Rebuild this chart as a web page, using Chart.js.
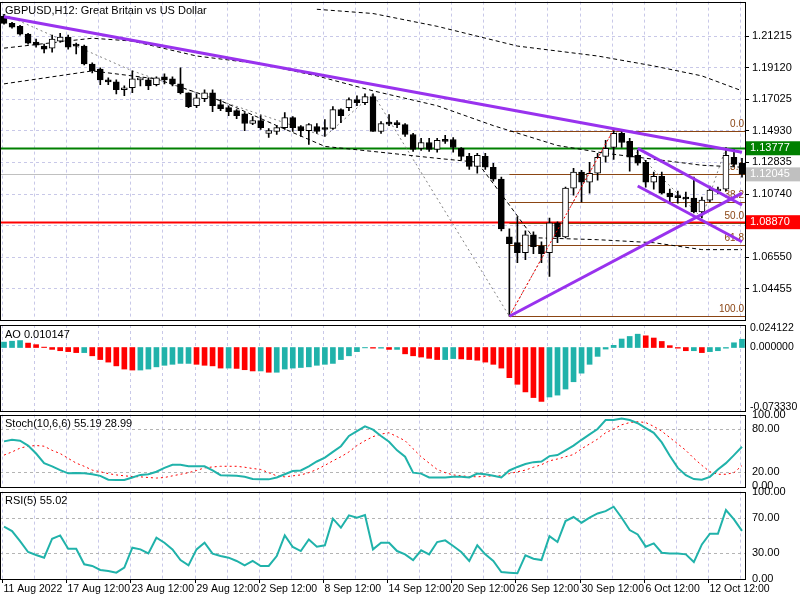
<!DOCTYPE html>
<html><head><meta charset="utf-8">
<script src="https://cdn.jsdelivr.net/npm/chart.js@4"></script>
<style>
body{margin:0;background:#fff;width:800px;height:600px;overflow:hidden;position:relative;font-family:"Liberation Sans",sans-serif}
.p{position:absolute;left:0;width:800px}
</style></head><body>
<div class="p" id="d0"><canvas id="c0"></canvas></div>
<div class="p" id="d1"><canvas id="c1"></canvas></div>
<div class="p" id="d2"><canvas id="c2"></canvas></div>
<div class="p" id="d3"><canvas id="c3"></canvas></div>
<script>
// ---- data ----
const tradingDays = ["11 Aug","12 Aug","15 Aug","16 Aug","17 Aug","18 Aug","19 Aug","22 Aug","23 Aug","24 Aug","25 Aug","26 Aug","29 Aug","30 Aug","31 Aug",
"1 Sep","2 Sep","5 Sep","6 Sep","7 Sep","8 Sep","9 Sep","12 Sep","13 Sep","14 Sep","15 Sep","16 Sep","19 Sep","20 Sep","21 Sep","22 Sep","23 Sep","26 Sep","27 Sep","28 Sep","29 Sep","30 Sep",
"3 Oct","4 Oct","5 Oct","6 Oct","7 Oct","10 Oct","11 Oct","12 Oct","13 Oct","14 Oct"];
const tickLabels = ["11 Aug 2022","17 Aug 12:00","23 Aug 12:00","29 Aug 12:00","2 Sep 12:00","8 Sep 12:00","14 Sep 12:00","20 Sep 12:00","26 Sep 12:00","30 Sep 12:00","6 Oct 12:00","12 Oct 12:00"];
const opens = [1.2253,1.2207,1.2187,1.2135,1.2082,1.2056,1.2042,1.2089,1.2115,1.2062,1.2056,1.1937,1.1904,1.1825,1.1818,1.1766,1.1779,1.1832,1.1832,1.1799,1.1851,1.1838,1.1805,1.1746,1.1660,1.1706,1.1746,1.1667,1.1647,1.1627,1.1607,1.1542,1.1561,1.1476,1.1489,1.1515,1.1581,1.1522,1.1495,1.1522,1.1509,1.1509,1.1634,1.1647,1.1700,1.1680,1.1720,1.1489,1.1542,1.1548,1.1535,1.1469,1.1377,1.1416,1.1370,1.1430,1.1436,1.1377,1.1324,1.1258,1.1324,1.1252,1.1173,1.0790,1.0751,1.0685,1.0804,1.0731,1.0685,1.0883,1.0790,1.1113,1.1219,1.1153,1.1212,1.1324,1.1383,1.1476,1.1423,1.1331,1.1285,1.1153,1.1192,1.1080,1.1054,1.1054,1.1047,1.0955,1.1034,1.1094,1.1107,1.1318,1.1278];
const highs = [1.2267,1.2214,1.2194,1.2141,1.2102,1.2069,1.2128,1.2141,1.2128,1.2075,1.2062,1.1944,1.1911,1.1845,1.1832,1.1792,1.1891,1.1845,1.1845,1.1851,1.1871,1.1851,1.1911,1.1746,1.1739,1.1766,1.1766,1.1700,1.1660,1.1634,1.1614,1.1588,1.1594,1.1509,1.1528,1.1614,1.1588,1.1528,1.1542,1.1542,1.1568,1.1654,1.1640,1.1713,1.1726,1.1739,1.1739,1.1555,1.1601,1.1561,1.1542,1.1476,1.1443,1.1443,1.1443,1.1463,1.1449,1.1383,1.1344,1.1344,1.1344,1.1278,1.1186,1.0843,1.0922,1.0830,1.0823,1.0757,1.0915,1.0889,1.1120,1.1245,1.1232,1.1285,1.1344,1.1430,1.1502,1.1495,1.1443,1.1364,1.1298,1.1219,1.1219,1.1107,1.1094,1.1087,1.1186,1.1054,1.1127,1.1120,1.1383,1.1370,1.1311];
const lows = [1.2201,1.2174,1.2128,1.2069,1.2049,1.2010,1.2016,1.2082,1.2036,1.2003,1.1930,1.1878,1.1799,1.1799,1.1739,1.1726,1.1746,1.1792,1.1766,1.1792,1.1805,1.1792,1.1739,1.1647,1.1647,1.1687,1.1621,1.1627,1.1594,1.1574,1.1495,1.1535,1.1502,1.1449,1.1469,1.1502,1.1489,1.1456,1.1403,1.1476,1.1456,1.1502,1.1548,1.1627,1.1660,1.1667,1.1489,1.1476,1.1528,1.1515,1.1456,1.1357,1.1364,1.1357,1.1351,1.1410,1.1351,1.1298,1.1238,1.1212,1.1238,1.1159,1.0830,1.0263,1.0619,1.0639,1.0678,1.0619,1.0527,1.0751,1.0783,1.1067,1.1021,1.1080,1.1166,1.1285,1.1304,1.1383,1.1225,1.1265,1.1120,1.1107,1.1074,1.1021,1.1014,1.0988,1.0949,1.0915,1.1021,1.1074,1.1094,1.1258,1.1186];
const closes = [1.2207,1.2181,1.2135,1.2075,1.2062,1.2036,1.2102,1.2115,1.2049,1.2056,1.1937,1.1891,1.1832,1.1818,1.1766,1.1779,1.1838,1.1838,1.1792,1.1845,1.1832,1.1805,1.1746,1.1654,1.1713,1.1746,1.1660,1.1640,1.1621,1.1594,1.1542,1.1561,1.1515,1.1495,1.1515,1.1581,1.1515,1.1495,1.1535,1.1489,1.1502,1.1634,1.1594,1.1700,1.1680,1.1720,1.1489,1.1542,1.1538,1.1535,1.1469,1.1370,1.1416,1.1370,1.1430,1.1423,1.1383,1.1324,1.1258,1.1331,1.1252,1.1173,1.0843,1.0744,1.0685,1.0804,1.0724,1.0678,1.0883,1.0790,1.1113,1.1219,1.1153,1.1212,1.1318,1.1377,1.1476,1.1416,1.1318,1.1278,1.1153,1.1192,1.1080,1.1054,1.1050,1.1041,1.0955,1.1034,1.1100,1.1107,1.1331,1.1271,1.1205];
const aoValues = [0.0066,0.0077,0.0085,0.0054,0.0035,0.0005,-0.0023,-0.0039,-0.0050,-0.0062,-0.0062,-0.0101,-0.0147,-0.0178,-0.0224,-0.0263,-0.0275,-0.0275,-0.0263,-0.0236,-0.0217,-0.0205,-0.0194,-0.0194,-0.0205,-0.0217,-0.0224,-0.0251,-0.0251,-0.0255,-0.0271,-0.0286,-0.0286,-0.0302,-0.0302,-0.0263,-0.0251,-0.0244,-0.0236,-0.0217,-0.0205,-0.0194,-0.0147,-0.0101,-0.0050,-0.0004,-0.0008,-0.0008,-0.0023,-0.0023,
-0.0077,-0.0101,-0.0116,-0.0132,-0.0147,-0.0147,-0.0135,-0.0139,-0.0147,-0.0155,-0.0178,-0.0205,-0.0251,-0.0368,-0.0449,-0.0542,-0.0611,-0.0658,-0.0604,-0.0581,-0.0507,-0.0418,-0.0313,-0.0205,-0.0108,-0.0019,0.0027,0.0104,0.0135,0.0163,0.0143,0.0116,0.0074,0.0023,-0.0008,-0.0039,-0.0039,-0.0062,-0.0050,-0.0039,-0.0008,0.0058,0.0101];
const stochMain = [62.7,64.9,63.6,56.9,45.8,32.4,28.0,22.7,18.2,18.7,18.2,16.9,14.7,9.3,8.9,8.9,12.4,16.0,16.9,20.4,25.8,30.2,30.2,28.0,28.0,28.0,22.2,15.6,15.1,14.7,13.3,10.2,9.8,9.8,12.4,16.9,21.3,22.2,28.0,34.7,40.0,48.0,56.0,70.2,76.9,83.6,79.1,70.2,62.2,50.2,
41.3,19.1,17.8,12.4,12.4,12.4,13.3,13.3,12.4,17.8,16.9,14.7,12.4,22.2,27.1,31.1,33.8,34.7,42.2,43.6,50.2,56.9,64.9,72.4,80.0,92.4,92.4,94.7,92.4,88.0,81.3,74.7,61.3,42.7,25.8,15.6,10.2,9.3,13.3,23.6,32.4,43.6,55.2];
const stochSignal = [43.6,48.0,53.3,56.0,56.9,56.0,50.2,45.8,39.1,32.4,28.0,22.7,20.4,17.8,16.0,14.7,13.8,13.3,12.4,11.6,12.4,14.7,16.9,19.1,22.2,25.8,27.1,28.0,28.0,28.0,26.7,24.9,23.6,19.1,14.7,13.3,14.7,16.0,19.1,23.6,29.3,35.6,41.3,48.0,56.9,63.6,69.3,72.9,74.7,69.3,
63.6,52.4,41.3,32.4,23.6,19.1,16.0,14.7,13.8,13.3,14.2,14.7,14.7,17.8,20.4,22.7,26.7,30.2,35.6,38.2,41.3,44.4,52.4,59.1,65.8,74.7,80.0,85.8,88.9,90.2,88.9,83.6,76.9,68.0,59.1,50.2,39.1,29.3,20.4,16.9,16.9,19.1,29.0];
const rsiValues = [59.8,54.9,43.4,30.9,27.4,24.4,46.1,49.9,34.7,34.7,16.8,14.9,10.3,9.1,7.2,13.0,35.8,33.9,29.3,47.2,41.5,33.9,21.7,15.6,33.9,41.5,29.0,26.3,24.4,20.6,15.6,20.6,14.9,14.9,26.3,49.9,36.6,32.0,45.3,37.0,38.5,69.0,58.7,72.8,70.1,73.1,33.9,41.5,41.5,32.0,
28.2,21.7,32.8,28.2,42.3,44.2,37.7,30.9,20.6,38.5,28.2,20.6,8.0,7.2,6.5,27.0,23.2,21.7,49.1,42.3,66.3,70.9,64.4,70.1,75.0,77.7,82.7,70.1,56.0,51.0,37.0,40.8,30.1,29.3,29.3,28.2,19.4,39.6,51.8,51.8,78.9,68.2,55.0];
// overlay values (index: price)
const bandUpper = {39:1.2300,46:1.2272,54:1.2187,64:1.2056,74:1.1990,81:1.1924,87:1.1858,92:1.1759};
const bandMiddle = {0:1.2042,11:1.2108,16:1.2089,24:1.1990,32:1.1937,39:1.1858,46:1.1759,54:1.1660,61:1.1528,69:1.1396,75:1.1344,81:1.1305,87:1.1265,92:1.1252};
const bandLower = {0:1.1805,11:1.1891,19:1.1838,27:1.1693,34:1.1528,40:1.1390,47:1.1351,54:1.1311,59:1.1285,63:1.1001,66:1.0784,74:1.0771,81:1.0751,87:1.0705,92:1.0705};
const zigzag = {0:1.2267,16:1.1891,40:1.1456,46:1.1739,63:1.0263,76:1.1502,87:1.0915,90:1.1383};
const trendDown = {0:1.2250,92:1.1351};
const trendUp = {63:1.0263,92:1.1080};
const channelTop = {79:1.1377,92:1.1001};
const channelBottom = {79:1.1127,92:1.0757};
const fibLine = {63:1.0263,76:1.1502};
const fibLevels = [["0.0",1.1495],["23.6",1.1204],["38.2",1.1024],["50.0",1.0879],["61.8",1.0734],["100.0",1.0263]];
const priceLines = [[1.13777,"#008000"],[1.08870,"#ff0000"],[1.12045,"#c0c0c0"]];
const mainTicks = [1.04455,1.06550,1.08645,1.10740,1.12835,1.14930,1.17025,1.19120,1.21215];
const aoTicks = [-0.073330,0,0.024122];
const stochTicks = [0,20,80,100];
const rsiTicks = [0,30,70,100];

// ---- build ----
const categories = [tradingDays[0]+" 12:00"];
tradingDays.slice(1).forEach(d=>{categories.push(d+" 00:00");categories.push(d+" 12:00");});
const N = categories.length;
const sparse = o => categories.map((_,i)=> o[i]!==undefined ? o[i] : null);
const FONT = {family:"Liberation Sans", size:11};
const TXT = "11px Liberation Sans";
const GRIDC = "#c8c8e8";

function basePlugin(title, hlines, extra){
  return {id:'p'+Math.random(),
    beforeDatasetsDraw(ch){
      const {ctx,chartArea:a,scales:{x,y}} = ch;
      ctx.save();
      ctx.strokeStyle=GRIDC; ctx.lineWidth=1; ctx.setLineDash([3,3]);
      for(let i=0;i<N;i+=4){const px=Math.round(x.getPixelForValue(i))-1.5;ctx.beginPath();ctx.moveTo(px,a.top);ctx.lineTo(px,a.bottom);ctx.stroke();}
      if(hlines){ hlines.forEach(([v,c])=>{const py=Math.round(y.getPixelForValue(v))+0.5;ctx.strokeStyle=c;ctx.beginPath();ctx.moveTo(a.left,py);ctx.lineTo(a.right,py);ctx.stroke();}); }
      ctx.restore();
      if(extra && extra.before) extra.before(ch);
    },
    afterDraw(ch){
      const {ctx,chartArea:a} = ch;
      if(extra && extra.after) extra.after(ch);
      ctx.save();
      ctx.strokeStyle="#000"; ctx.lineWidth=1; ctx.setLineDash([]);
      ctx.strokeRect(Math.round(a.left)+0.5,Math.round(a.top)+0.5,Math.round(a.right-a.left)-1,Math.round(a.bottom-a.top));
      ctx.fillStyle="#000"; ctx.font=TXT; ctx.textBaseline="top"; ctx.textAlign="left";
      ctx.fillText(title,a.left+5,a.top+4);
      ctx.restore();
    }};
}
function yAxis(min,max,ticks,fmt,grid,fsize){
  return {position:'right',min,max,
    afterBuildTicks:s=>{s.ticks=ticks.map(v=>({value:v}));},
    afterFit:s=>{s.width=54;},
    ticks:{color:'#000',font:{family:"Liberation Sans",size:fsize||11},padding:fsize?1:3,callback:v=>fmt(v)},
    grid:{display:!!grid,color:GRIDC,drawTicks:true,tickLength:3,tickColor:'#000'},
    border:{display:false,dash:[3,3]}};
}
function xAxis(){
  return {type:'category',offset:true,display:false};
}
function place(id,areaTop,areaBottom,bottomExtra){
  const d=document.getElementById(id);
  const pad=8;
  d.style.top=(areaTop-pad)+'px';
  d.style.height=(areaBottom-areaTop+pad+(bottomExtra||pad))+'px';
}
const common = {responsive:true,maintainAspectRatio:false,animation:false,
  plugins:{legend:{display:false},tooltip:{enabled:false}}};

// main
place('d0',0,321);
const lineDs = (o,color,w,dash,ord)=>({type:'line',data:sparse(o),borderColor:color,borderWidth:w,borderDash:dash||[],pointRadius:0,spanGaps:true,order:ord||1,tension:0});
new Chart(document.getElementById('c0'),{
  data:{labels:categories,datasets:[
    {type:'bar',data:categories.map((_,i)=>[lows[i],highs[i]]),backgroundColor:'#000',barThickness:1,grouped:false,order:5},
    {type:'bar',data:categories.map((_,i)=>[opens[i],closes[i]]),backgroundColor:categories.map((_,i)=>closes[i]>=opens[i]?'#fff':'#000'),borderColor:'#000',borderWidth:1,borderSkipped:false,barThickness:6,minBarLength:2,grouped:false,order:4},
    lineDs(bandUpper,'#000',1,[4,3],6),lineDs(bandMiddle,'#000',1,[4,3],6),lineDs(bandLower,'#000',1,[4,3],6),
    lineDs(zigzag,'#808080',1,[2,3],6),
    lineDs(fibLine,'#ff0000',1,[2,2],3),
    lineDs(trendDown,'#9932ee',3,[],1),lineDs(trendUp,'#9932ee',3,[],1),lineDs(channelTop,'#9932ee',3,[],1),lineDs(channelBottom,'#9932ee',3,[],1)
  ]},
  options:{...common,layout:{padding:{top:8,bottom:8,left:0,right:0}},
    scales:{x:xAxis(),y:yAxis(1.0242,1.2351,mainTicks,v=>v.toFixed(5),true)}},
  plugins:[basePlugin("GBPUSD,H12: Great Britain vs US Dollar",null,
    {before(ch){
      const {ctx,chartArea:a,scales:{x,y}}=ch; ctx.save(); ctx.setLineDash([]);
      priceLines.forEach(([v,c])=>{const py=Math.round(y.getPixelForValue(v))+0.5;ctx.strokeStyle=c;ctx.lineWidth=c==='#c0c0c0'?1:2;ctx.beginPath();ctx.moveTo(a.left,py);ctx.lineTo(a.right,py);ctx.stroke();});
      const x0=x.getPixelForValue(63);
      ctx.lineWidth=1;ctx.strokeStyle='#8b4513';ctx.fillStyle='#8b4513';ctx.font="10px Liberation Sans";ctx.textAlign='right';ctx.textBaseline='bottom';
      fibLevels.forEach(([t,v])=>{const py=Math.round(y.getPixelForValue(v))+0.5;ctx.beginPath();ctx.moveTo(x0,py);ctx.lineTo(a.right,py);ctx.stroke();ctx.fillText(t,a.right-2,py-2);});
      ctx.restore();},
     after(ch){
      const {ctx,chartArea:a,scales:{y}}=ch; ctx.save();
      priceLines.forEach(([v,c])=>{const py=y.getPixelForValue(v);ctx.fillStyle=c;ctx.fillRect(a.right,py-7,56,14);ctx.fillStyle='#fff';ctx.font=TXT;ctx.textBaseline='middle';ctx.textAlign='left';ctx.fillText(v.toFixed(5),a.right+4,py);});
      ctx.restore();}})]
});

// AO
place('d1',325,411);
new Chart(document.getElementById('c1'),{
  type:'bar',
  data:{labels:categories,datasets:[{data:aoValues,barThickness:5,
    backgroundColor:aoValues.map((v,i)=> i===0||v>=aoValues[i-1] ? '#20b2aa' : '#ff0000')}]},
  options:{...common,layout:{padding:{top:8,bottom:8}},
    scales:{x:xAxis(),y:yAxis(-0.0775,0.0275,aoTicks,v=>v.toFixed(6),false,10.5)}},
  plugins:[basePlugin("AO 0.010147",null)]
});

// Stoch
place('d2',413,488);
new Chart(document.getElementById('c2'),{
  type:'line',
  data:{labels:categories,datasets:[
    {data:stochMain,borderColor:'#20b2aa',borderWidth:2,pointRadius:0,tension:0},
    {data:stochSignal,borderColor:'#ff0000',borderWidth:1,borderDash:[2,3],pointRadius:0,tension:0}]},
  options:{...common,layout:{padding:{top:8,bottom:8}},
    scales:{x:xAxis(),y:yAxis(0,100,stochTicks,v=>v.toFixed(2),false)}},
  plugins:[basePlugin("Stoch(10,6,6) 55.19 28.99",[[80,'#b4b4b4'],[20,'#b4b4b4']])]
});

// RSI
place('d3',490,579,21);
new Chart(document.getElementById('c3'),{
  type:'line',
  data:{labels:categories,datasets:[
    {data:rsiValues,borderColor:'#20b2aa',borderWidth:2,pointRadius:0,tension:0}]},
  options:{...common,layout:{padding:{top:8,bottom:21}},
    scales:{x:xAxis(),y:yAxis(0,100,rsiTicks,v=>v.toFixed(2),false)}},
  plugins:[basePlugin("RSI(5) 55.02",[[70,'#b4b4b4'],[30,'#b4b4b4']],
    {after(ch){
      const {ctx,chartArea:a,scales:{x}}=ch; ctx.save();
      ctx.fillStyle='#000';ctx.font="10.5px Liberation Sans";ctx.textAlign='left';ctx.textBaseline='top';ctx.strokeStyle='#000';
      for(let i=0;i<N;i+=8){const px=Math.round(x.getPixelForValue(i))-1.5;
        ctx.beginPath();ctx.moveTo(px,a.bottom);ctx.lineTo(px,a.bottom+4);ctx.stroke();
        ctx.fillText(tickLabels[i/8],px+1,a.bottom+5);}
      ctx.restore();}})]
});
</script></body></html>
